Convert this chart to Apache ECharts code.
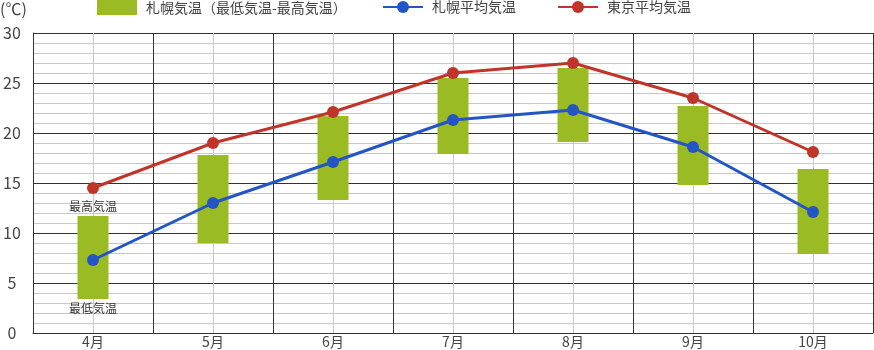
<!DOCTYPE html>
<html><head><meta charset="utf-8">
<script src="https://cdn.jsdelivr.net/npm/echarts@6/dist/echarts.min.js"></script>
<style>html,body{margin:0;padding:0;background:#fff}#c{width:874px;height:350px}</style>
</head><body><div id="c"></div>
<script>
const months = ['4月','5月','6月','7月','8月','9月','10月'];
const sapporoLow = [3.4, 9.0, 13.3, 17.9, 19.1, 14.8, 7.9];
const sapporoHigh = [11.7, 17.8, 21.7, 25.5, 26.5, 22.7, 16.4];
const sapporoAvg = [7.3, 13.0, 17.1, 21.3, 22.3, 18.6, 12.1];
const tokyoAvg = [14.5, 19.0, 22.1, 26.0, 27.0, 23.5, 18.1];
const yTicks = [0, 5, 10, 15, 20, 25, 30];
const legendNames = ['札幌気温（最低気温-最高気温）', '札幌平均気温', '東京平均気温'];

const FONT = '"Noto Sans CJK JP","Noto Sans",sans-serif';
const DARK = '#333333', LIGHT = '#c8c8c8';
const GREEN = '#9bbb24', BLUE = '#2356c4', RED = '#c0352a';

function legendAt(left, name, extra) {
  return Object.assign({
    left: left, top: 0, padding: 0, itemWidth: 40, itemHeight: 15,
    textStyle: { fontSize: 14, color: '#444', fontFamily: FONT, padding: [0, 0, 0, 4] },
    data: [name]
  }, extra || {});
}

const chart = echarts.init(document.getElementById('c'));
chart.setOption({
  animation: false,
  textStyle: { fontFamily: FONT },
  grid: { left: 33, right: 1, top: 33, bottom: 17, containLabel: false },
  graphic: [{ type: 'text', left: 0, top: 1, style: { text: '(℃)', font: '16px ' + FONT, fill: '#444' } }],
  legend: [
    legendAt(97, { name: legendNames[0], icon: 'rect', itemStyle: { color: GREEN } }),
    legendAt(382, legendNames[1]),
    legendAt(557, legendNames[2])
  ],
  xAxis: [
    { type: 'category', data: months, boundaryGap: true,
      axisLine: { lineStyle: { color: DARK, width: 1 } }, axisTick: { show: false },
      axisLabel: { fontSize: 14, color: '#444', margin: 2, fontFamily: FONT },
      splitLine: { show: false } },
    { type: 'value', min: 0, max: 7, interval: 1, position: 'bottom',
      axisLine: { show: false }, axisTick: { show: false }, axisLabel: { show: false },
      splitLine: { show: true, lineStyle: { color: DARK, width: 1 } },
      minorTick: { show: false, splitNumber: 2 },
      minorSplitLine: { show: true, lineStyle: { color: LIGHT, width: 1 } } }
  ],
  yAxis: {
    type: 'value', min: yTicks[0], max: yTicks[yTicks.length - 1], interval: 5,
    axisLine: { show: true, lineStyle: { color: DARK, width: 1 } }, axisTick: { show: false },
    axisLabel: { fontSize: 16, color: '#444', align: 'center', margin: 21, fontFamily: FONT },
    splitLine: { show: true, lineStyle: { color: DARK, width: 1 } },
    minorTick: { show: false, splitNumber: 5 },
    minorSplitLine: { show: true, lineStyle: { color: LIGHT, width: 1 } }
  },
  series: [
    { name: legendNames[0], type: 'custom', xAxisIndex: 0, yAxisIndex: 0, z: 1,
      itemStyle: { color: GREEN },
      data: months.map((m, i) => [i, sapporoLow[i], sapporoHigh[i]]),
      renderItem: function (params, api) {
        const lo = api.coord([api.value(0), api.value(1)]);
        const hi = api.coord([api.value(0), api.value(2)]);
        const w = 31;
        const children = [{ type: 'rect', shape: { x: lo[0] - w / 2, y: hi[1], width: w, height: lo[1] - hi[1] },
          style: { fill: GREEN } }];
        if (params.dataIndex === 0) {
          children.push({ type: 'text', style: { text: '最高気温', x: lo[0], y: hi[1] - 10, align: 'center', verticalAlign: 'middle', font: '12px ' + FONT, fill: '#333' } });
          children.push({ type: 'text', style: { text: '最低気温', x: lo[0], y: lo[1] + 9, align: 'center', verticalAlign: 'middle', font: '12px ' + FONT, fill: '#333' } });
        }
        return { type: 'group', children: children };
      } },
    { name: legendNames[1], type: 'line', data: sapporoAvg, z: 3, color: BLUE,
      symbol: 'circle', symbolSize: 12, lineStyle: { width: 3, color: BLUE }, itemStyle: { color: BLUE } },
    { name: legendNames[2], type: 'line', data: tokyoAvg, z: 3, color: RED,
      symbol: 'circle', symbolSize: 12, lineStyle: { width: 3, color: RED }, itemStyle: { color: RED } }
  ]
});
</script></body></html>
